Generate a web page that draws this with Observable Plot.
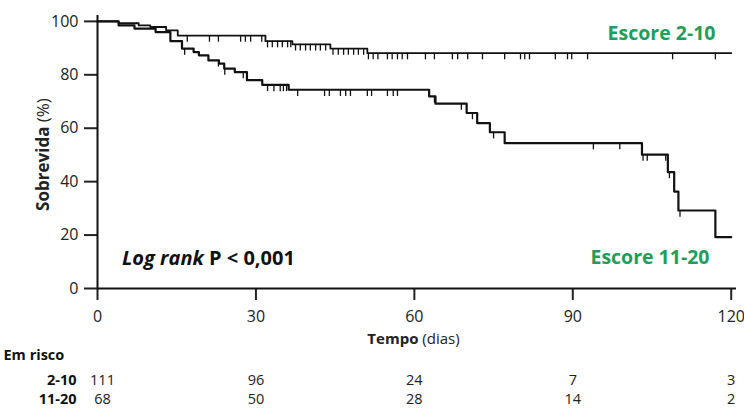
<!DOCTYPE html>
<html>
<head>
<meta charset="utf-8">
<script src="https://cdn.jsdelivr.net/npm/d3@7"></script>
<script src="https://cdn.jsdelivr.net/npm/@observablehq/plot@0.6"></script>
<style>
  html, body { margin: 0; padding: 0; background: #fff; }
  #chart { width: 744px; height: 409px; overflow: hidden; }
</style>
</head>
<body>
<div id="chart"></div>
<script>
// Kaplan-Meier step data (time in days, survival %)
const lowT = [0, 4, 7, 11, 13.8, 16, 18.2, 19.2, 21, 23, 24, 26, 28.3, 31.2, 36.2, 62.8, 64, 69.9, 71.9, 74.3, 77.1, 103.1, 108, 109.2, 110, 117, 120];
const lowS = [100, 98.5, 97.3, 96, 92.6, 89.8, 88.5, 87.3, 85.4, 84.2, 82.3, 81, 78, 76.2, 74.4, 71.9, 69.2, 65.7, 61.9, 58.5, 54.4, 50.1, 43.6, 36.3, 29.2, 19.2, 19.2];
const upT = [0, 4, 7.8, 10, 13, 15.2, 31.8, 36.9, 44.1, 51.1, 120];
const upS = [100, 99.3, 98.5, 97.9, 96.6, 94.7, 92.6, 91.4, 89.8, 88.1, 88.1];
// censoring times
const upCens = [17, 21.2, 22.9, 27.1, 28, 29, 31.1, 32.2, 33.1, 34.1, 35, 36, 36.6, 37.5, 38.4, 39.4, 40.3, 41.3, 42.2, 43.2, 44.6, 45.6, 46.6, 47.5, 48.5, 49.4, 50.4, 51.3, 52.2, 53.1, 54.9, 55.8, 56.8, 57.7, 58.7, 62.1, 63.8, 67.2, 68.2, 70.1, 72.9, 77.1, 80.1, 80.9, 81.8, 86.7, 89, 89.8, 92.8, 108.9, 117];
const lowCens = [16.5, 22.9, 24.1, 27.6, 32.2, 33.4, 34.6, 35.2, 35.8, 37.9, 43, 43.9, 46, 47, 47.9, 51.1, 51.9, 54.9, 56, 56.8, 63.8, 68.9, 71, 75, 93.9, 98.9, 103.3, 104.1, 107.6, 108.3, 110.3];
// at-risk table
const riskT = [0, 30, 60, 90, 120];
const risk210 = [111, 96, 24, 7, 3];
const risk1120 = [68, 50, 28, 14, 2];
const xTicks = [0, 30, 60, 90, 120];
const yTicks = [0, 20, 40, 60, 80, 100];

const green = "#1e9e5a";

function steps(T, S) { return T.map((t, i) => ({t, s: S[i]})); }
function survAt(T, S, t) { let v = S[0]; for (let i = 0; i < T.length; i++) if (T[i] <= t) v = S[i]; return v; }
const upLine = steps(upT, upS);
const lowLine = steps(lowT, lowS);
const upC = upCens.map(t => ({t, s: survAt(upT, upS, t)}));
const lowC = lowCens.map(t => ({t, s: survAt(lowT, lowS, t)}));
const r1 = riskT.map((t, i) => ({t, n: risk210[i]}));
const r2 = riskT.map((t, i) => ({t, n: risk1120[i]}));

const num = {fontSize: 14.5, fill: "#222", lineHeight: 1};
const lab = {fontSize: 14.5, fill: "#111", fontWeight: "bold", lineHeight: 1};

const plot = Plot.plot({
  width: 744,
  height: 409,
  marginTop: 15,
  marginRight: 8,
  marginBottom: 121,
  marginLeft: 97,
  style: {fontFamily: "'Open Sans', sans-serif", fontSize: "16px", color: "#222", background: "#fff"},
  x: {domain: [0, 121]},
  y: {domain: [0, 102.2]},
  marks: [
    Plot.axisY({ticks: yTicks, tickSize: 13, tickPadding: 6, strokeWidth: 2, label: null, color: "#222"}),
    Plot.axisX({ticks: xTicks, tickSize: 12, tickPadding: 10, strokeWidth: 2, label: null, color: "#222"}),
    Plot.ruleX([0], {strokeWidth: 2, stroke: "#111"}),
    Plot.ruleY([0], {strokeWidth: 2, stroke: "#111"}),
    Plot.line(upLine, {x: "t", y: "s", curve: "step-after", stroke: "#111", strokeWidth: 1.8}),
    Plot.line(lowLine, {x: "t", y: "s", curve: "step-after", stroke: "#111", strokeWidth: 2.2}),
    Plot.ruleX(upC, {x: "t", y1: "s", y2: d => d.s - 2.5, stroke: "#111", strokeWidth: 1.3}),
    Plot.ruleX(lowC, {x: "t", y1: "s", y2: d => d.s - 2.5, stroke: "#111", strokeWidth: 1.3}),
    Plot.text(["Escore 2-10"], {frameAnchor: "top-right", dx: -21, dy: 11, textAnchor: "end", fill: green, fontWeight: "bold", fontSize: 19.5}),
    Plot.text(["Escore 11-20"], {frameAnchor: "bottom-right", dx: -27, dy: -25, textAnchor: "end", fill: green, fontWeight: "bold", fontSize: 19.5}),
    Plot.text(["Em risco"], {frameAnchor: "bottom-left", dx: -94, dy: 71, textAnchor: "start", ...lab}),
    Plot.text(["2-10"], {frameAnchor: "bottom-left", dx: -21, dy: 96, textAnchor: "end", ...lab}),
    Plot.text(["11-20"], {frameAnchor: "bottom-left", dx: -21, dy: 115, textAnchor: "end", ...lab}),
    Plot.text(r1.filter(d => d.t === 0), {x: "t", text: "n", frameAnchor: "bottom", dx: 5, dy: 96, ...num}),
    Plot.text(r2.filter(d => d.t === 0), {x: "t", text: "n", frameAnchor: "bottom", dx: 5, dy: 115, ...num}),
    Plot.text(r1.filter(d => d.t > 0), {x: "t", text: "n", frameAnchor: "bottom", dy: 96, ...num}),
    Plot.text(r2.filter(d => d.t > 0), {x: "t", text: "n", frameAnchor: "bottom", dy: 115, ...num})
  ]
});

const svg = d3.select(plot);
// Log rank annotation
const lr = svg.append("text").attr("x", 122).attr("y", 265).attr("text-anchor", "start")
  .attr("font-size", 20).attr("font-weight", "bold").attr("fill", "#111");
lr.append("tspan").attr("font-style", "italic").text("Log rank");
lr.append("tspan").text(" P < 0,001");
// y label
const yl = svg.append("text").attr("transform", "translate(49,154.5) rotate(-90)")
  .attr("text-anchor", "middle").attr("font-size", 17).attr("fill", "#222");
yl.append("tspan").attr("font-weight", "bold").text("Sobrevida");
yl.append("tspan").text(" (%)");
// x label
const xl = svg.append("text").attr("x", 413.5).attr("y", 344)
  .attr("text-anchor", "middle").attr("font-size", 15).attr("fill", "#222");
xl.append("tspan").attr("font-weight", "bold").text("Tempo");
xl.append("tspan").text(" (dias)");

document.getElementById("chart").appendChild(plot);
</script>
</body>
</html>
